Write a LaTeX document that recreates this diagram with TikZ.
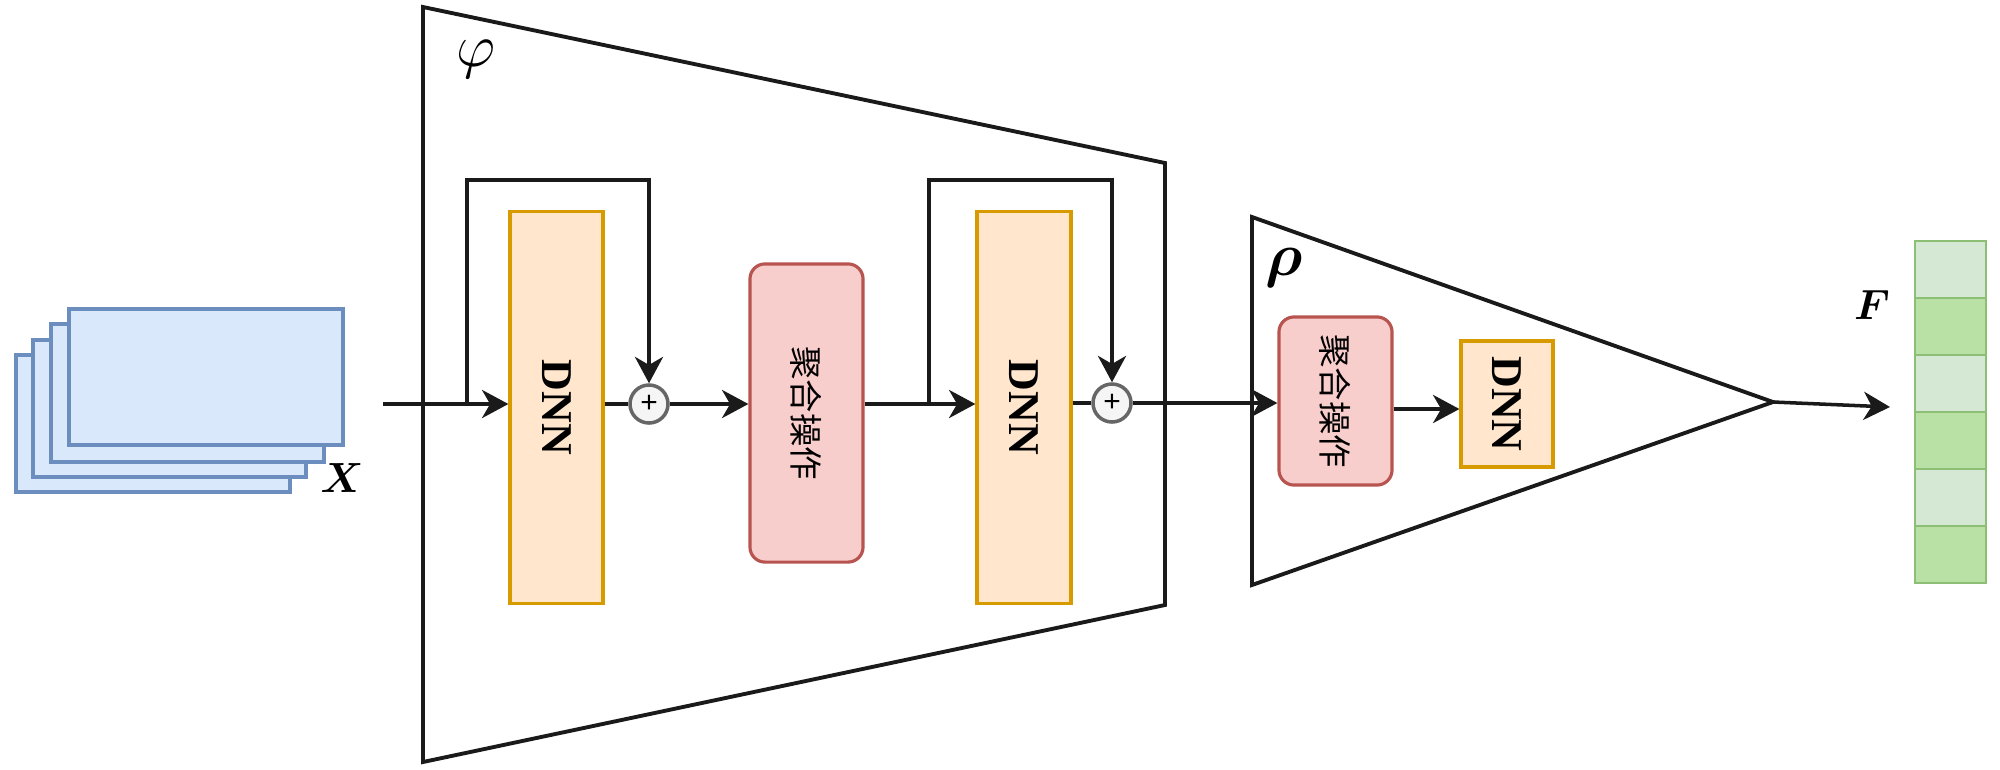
\documentclass[tikz,border=0pt]{standalone}
\usepackage{fontspec}
\usepackage{amsmath}
\usepackage{bm}
\usepackage{graphicx}
\setmainfont{Liberation Serif}
\newfontfamily\cjkfont{Noto Sans CJK SC}
\newfontfamily\plusfont{Liberation Sans}
\usetikzlibrary{arrows.meta,calc}
\definecolor{linec}{HTML}{1A1A1A}
\definecolor{bluefill}{HTML}{DAE8FC}
\definecolor{bluedraw}{HTML}{6C8EBF}
\definecolor{orfill}{HTML}{FFE6CC}
\definecolor{ordraw}{HTML}{D79B00}
\definecolor{redfill}{HTML}{F8CECC}
\definecolor{reddraw}{HTML}{B85450}
\definecolor{gryfill}{HTML}{F5F5F5}
\definecolor{grydraw}{HTML}{666666}
\definecolor{grnlight}{HTML}{D5E8D4}
\definecolor{grndark}{HTML}{B9E0A5}
\definecolor{grndraw}{HTML}{8CBF75}
\begin{document}
\begin{tikzpicture}[x=0.01cm,y=-0.01cm,
  stackbox/.style={draw=bluedraw,fill=bluefill,line width=0.9pt},
  dnnbox/.style={draw=ordraw,fill=orfill,line width=0.9pt,inner sep=0pt,
    font=\fontsize{12.5}{14}\selectfont\bfseries},
  aggbox/.style={draw=reddraw,fill=redfill,line width=0.9pt,rounded corners=0.15cm,
    inner sep=0pt,font=\fontsize{9.5}{11}\selectfont\cjkfont},
  plusnode/.style={circle,draw=grydraw,fill=gryfill,line width=1pt,minimum size=0.38cm,
    inner sep=0pt,font=\fontsize{8.5}{9}\selectfont\plusfont},
  frame/.style={draw=linec,line width=1.1pt},
  conn/.style={draw=linec,line width=1pt},
  arr/.style={conn,-{Stealth[length=7.5pt,width=8pt,inset=2.3pt]}},
  cell/.style={draw=grndraw,line width=0.7pt,minimum width=0.71cm,minimum height=0.57cm,inner sep=0pt},
  lbl/.style={inner sep=0pt}
]
\useasboundingbox (0,0) rectangle (2000,769);

% input stack
\draw[stackbox] (16,355) rectangle (290,492);
\draw[stackbox] (33,340) rectangle (306,477);
\draw[stackbox] (51,324) rectangle (324,462);
\draw[stackbox] (69,309) rectangle (343,445);
\node[lbl,font=\fontsize{12}{13}\selectfont] (xlab) at (342,478) {$\bm{X}$};

% phi trapezoid
\draw[frame] (423,7) -- (1165,163) -- (1165,605) -- (423,762) -- cycle;
\node[lbl,font=\fontsize{17}{18}\selectfont] (philab) at (476,59) {$\varphi$};

% rho shape
\draw[frame] (1252,217) -- (1773,402) -- (1252,585) -- cycle;
\node[lbl,font=\fontsize{16}{17}\selectfont] (rholab) at (1284,268) {$\bm{\rho}$};

% boxes
\node[dnnbox,minimum width=0.93cm,minimum height=3.91cm] (dnn1) at (556.5,407.5) {\rotatebox{-90}{DNN}};
\node[aggbox,minimum width=1.13cm,minimum height=2.98cm] (agg1) at (806.5,413) {\rotatebox{-90}{聚合操作}};
\node[dnnbox,minimum width=0.94cm,minimum height=3.91cm] (dnn2) at (1024,407.5) {\rotatebox{-90}{DNN}};
\node[aggbox,minimum width=1.13cm,minimum height=1.68cm] (agg2) at (1335.5,401) {\rotatebox{-90}{聚合操作}};
\node[dnnbox,minimum width=0.92cm,minimum height=1.26cm] (dnn3) at (1507,404) {\rotatebox{-90}{DNN}};

\node[plusnode] (c1) at (649,404) {+};
\node[plusnode] (c2) at (1112,403) {+};

% coordinates
\coordinate (in) at (383,404);
\coordinate (s1) at (467,404);
\coordinate (t1) at (649,180);
\coordinate (s2) at (929,404);
\coordinate (t2) at (1112,180);
\coordinate (m2) at (0,409);
\coordinate (apex) at (1773,402);
\coordinate (fout) at (1890,407);

% connectors
\draw[arr] (in) -- (in -| dnn1.west);
\draw[arr] (s1) |- (t1) -- (c1.north);
\draw[conn] (c1.west -| dnn1.east) -- (c1.west);
\draw[arr] (c1.east) -- (c1.east -| agg1.west);
\draw[arr] (in -| agg1.east) -- (in -| dnn2.west);
\draw[arr] (s2) |- (t2) -- (c2.north);
\draw[conn] (c2.west -| dnn2.east) -- (c2.west);
\draw[arr] (c2.east) -- (c2.east -| agg2.west);
\draw[arr] (m2 -| agg2.east) -- (m2 -| dnn3.west);
\draw[arr] (apex) -- (fout);

% output vector F
\node[cell,fill=grnlight] (f1) at (1950.5,269.5) {};
\node[cell,fill=grndark]  (f2) at (1950.5,326.5) {};
\node[cell,fill=grnlight] (f3) at (1950.5,383.5) {};
\node[cell,fill=grndark]  (f4) at (1950.5,440.5) {};
\node[cell,fill=grnlight] (f5) at (1950.5,497.5) {};
\node[cell,fill=grndark]  (f6) at (1950.5,554.5) {};
\node[lbl,font=\fontsize{12}{13}\selectfont] (flab) at (1872,305) {$\bm{F}$};
\end{tikzpicture}
\end{document}
